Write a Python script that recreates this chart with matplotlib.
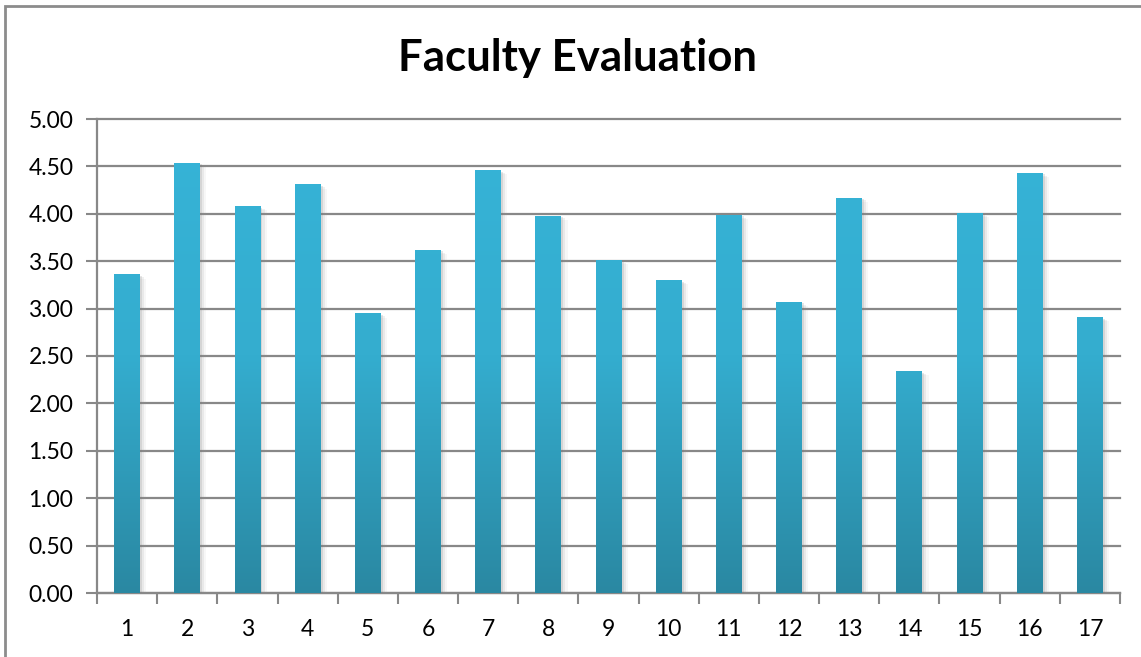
import matplotlib
matplotlib.use("Agg")
import matplotlib.pyplot as plt
import numpy as np
from matplotlib import patheffects as pe
from matplotlib.colors import LinearSegmentedColormap
from matplotlib.patches import Rectangle

categories = [str(i) for i in range(1, 18)]
values = [3.36, 4.54, 4.08, 4.31, 2.95, 3.62, 4.46, 3.98, 3.51, 3.30,
          3.99, 3.07, 4.17, 2.34, 4.01, 4.43, 2.91]
yticks = [0, 0.5, 1.0, 1.5, 2.0, 2.5, 3.0, 3.5, 4.0, 4.5, 5.0]
title = "Faculty Evaluation"

plt.rcParams['font.family'] = ['Lato', 'DejaVu Sans']

W, H = 1141, 657
fig = plt.figure(figsize=(W / 100, H / 100), dpi=100)
ax = fig.add_axes([97 / W, 1 - 593 / H, (1120 - 97) / W, (593 - 119) / H])

x = np.arange(len(categories))
shadow = [pe.SimplePatchShadow(offset=(1.5, -1), shadow_rgbFace="#777777", alpha=0.18),
          pe.SimplePatchShadow(offset=(3, -2), shadow_rgbFace="#888888", alpha=0.12),
          pe.SimplePatchShadow(offset=(4.5, -3), shadow_rgbFace="#999999", alpha=0.07),
          pe.Normal()]
bars = ax.bar(x, values, width=0.43, color="#33AFD2", zorder=3, path_effects=shadow)

cmap = LinearSegmentedColormap.from_list("g", ["#2A88A2", "#34ADCF", "#36B4D8"])
grad = np.linspace(0, 1, 256).reshape(-1, 1)
for b in bars:
    x0, y0 = b.get_x(), b.get_y()
    w, h = b.get_width(), b.get_height()
    im = ax.imshow(grad, cmap=cmap, origin="lower", aspect="auto",
                   extent=[x0, x0 + w, 0, 5.0], zorder=4, interpolation="bicubic")
    im.set_clip_path(Rectangle((x0, y0), w, h, transform=ax.transData))

ax.set_xlim(-0.5, len(categories) - 0.5)
ax.set_ylim(0, 5.0)
ax.set_yticks(yticks)
ax.set_yticklabels([f"{v:.2f}" for v in yticks])
ax.set_xticks(x)
ax.set_xticklabels(categories)
ax.set_xticks(np.arange(-0.5, len(categories)), minor=True)
ax.tick_params(axis="x", which="major", length=0, pad=19, labelsize=16.5)
ax.tick_params(axis="x", which="minor", length=8, width=1.5, color="#888888", direction="out")
ax.tick_params(axis="y", length=8, width=1.5, color="#888888", labelsize=16.5, pad=9)
ax.grid(axis="y", color="#888888", linewidth=1.6, zorder=1)
for gl in ax.get_ygridlines():
    gl.set_clip_on(False)
ax.set_axisbelow(True)
for s in ["top", "right"]:
    ax.spines[s].set_visible(False)
for s in ["left", "bottom"]:
    ax.spines[s].set_color("#888888")
    ax.spines[s].set_linewidth(1.6)

fig.text(578 / W, 1 - 58 / H, title, ha="center", va="center",
         fontsize=31.5, fontweight="bold")

border = Rectangle((5 / W, -0.05), 1.2, 1 - 6 / H + 0.05, transform=fig.transFigure,
                   fill=False, edgecolor="#8c8c8c", linewidth=2)
fig.patches.append(border)

fig.savefig("out.png", dpi=100)
